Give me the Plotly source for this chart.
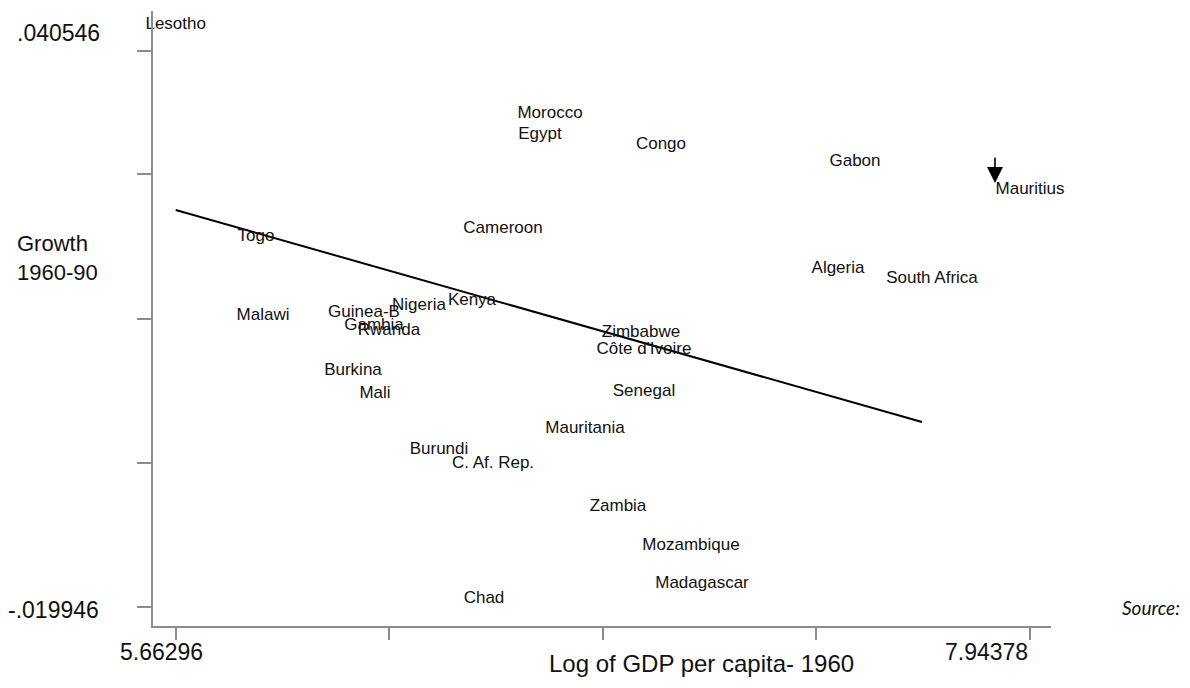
import plotly.graph_objects as go

# Country observations: log GDP per capita in 1960 and average growth 1960-90
countries = ["Lesotho", "Morocco", "Egypt", "Congo", "Gabon", "Mauritius", "Cameroon",
             "Togo", "Algeria", "South Africa", "Malawi", "Guinea-B", "Nigeria", "Kenya",
             "Gambia", "Rwanda", "Zimbabwe", "Côte d'Ivoire", "Burkina", "Mali", "Senegal",
             "Mauritania", "Burundi", "C. Af. Rep.", "Zambia", "Mozambique", "Madagascar", "Chad"]
log_gdp_1960 = [5.66296, 6.6623, 6.6356, 6.9586, 7.4765, 7.94378, 6.5368,
                5.8774, 7.4312, 7.6821, 5.8960, 6.1657, 6.3125, 6.4540,
                6.1924, 6.2324, 6.9052, 6.9132, 6.1363, 6.1951, 6.9132,
                6.7557, 6.3659, 6.5101, 6.8438, 7.0387, 7.0681, 6.4861]
growth_1960_90 = [0.040546, 0.03117, 0.02895, 0.02790, 0.02611, 0.02316, 0.01905,
                  0.01820, 0.01483, 0.01378, 0.00988, 0.01019, 0.01093, 0.01146,
                  0.00882, 0.00830, 0.00809, 0.00629, 0.00408, 0.00166, 0.00187,
                  -0.00203, -0.00425, -0.00572, -0.01025, -0.01436, -0.01837, -0.019946]

# Fitted regression line (end points)
fit_x = [5.66296, 7.6554]
fit_y = [0.02189, -0.00045]

# Axis ticks
x_ticks = [5.66296, 6.23317, 6.80337, 7.37358, 7.94378]
y_ticks = [-0.019946, -0.004771, 0.010405, 0.025686, 0.038648]
x_min_label, x_max_label = "5.66296", "7.94378"
y_min_label, y_max_label = "-.019946", ".040546"
x_title = "Log of GDP per capita- 1960"
y_title = "Growth<br>1960-90"

# Highlighted observation
arrow_x, arrow_y = 7.8503, 0.02474

FONT = "Liberation Sans, Arial, sans-serif"
AXIS_GREY = "#8c8c8c"
INK = "#111111"

fig = go.Figure()

fig.add_trace(go.Scatter(
    x=fit_x, y=fit_y, mode="lines",
    line=dict(color="black", width=2),
    hoverinfo="skip", showlegend=False,
))

fig.add_trace(go.Scatter(
    x=log_gdp_1960, y=growth_1960_90, mode="text",
    text=countries, textposition="top center",
    textfont=dict(family=FONT, size=17, color=INK),
    cliponaxis=False, showlegend=False,
))

x_range = [5.60236, 7.99984]
y_range = [-0.021948, 0.042864]

fig.update_layout(
    width=1190, height=688,
    margin=dict(l=153, r=139, t=11, b=62),
    paper_bgcolor="white", plot_bgcolor="white",
    xaxis=dict(range=x_range, showgrid=False, zeroline=False,
               showline=True, linecolor=AXIS_GREY, linewidth=1.5,
               ticks="outside", ticklen=12, tickwidth=1.5, tickcolor=AXIS_GREY,
               tickvals=x_ticks, showticklabels=False),
    yaxis=dict(range=y_range, showgrid=False, zeroline=False,
               showline=True, linecolor=AXIS_GREY, linewidth=1.5,
               ticks="outside", ticklen=14, tickwidth=1.5, tickcolor=AXIS_GREY,
               tickvals=y_ticks, showticklabels=False),
)

lab_font = dict(family=FONT, size=23, color=INK)

# End-point tick labels
fig.add_annotation(x=x_ticks[0], y=0, xref="x", yref="paper", yshift=-26,
                   xshift=-14, text=x_min_label, showarrow=False, font=lab_font,
                   xanchor="center", yanchor="middle")
fig.add_annotation(x=x_ticks[-1], y=0, xref="x", yref="paper", yshift=-26,
                   text=x_max_label, showarrow=False, font=lab_font,
                   xanchor="right", yanchor="middle")
fig.add_annotation(x=0, y=y_ticks[0], xref="paper", yref="y", xshift=-52,
                   yshift=-3, text=y_min_label, showarrow=False, font=lab_font,
                   xanchor="right", yanchor="middle")
fig.add_annotation(x=0, y=growth_1960_90[0], xref="paper", yref="y", xshift=-51,
                   text=y_max_label, showarrow=False, font=lab_font,
                   xanchor="right", yanchor="middle")

# Axis titles
fig.add_annotation(x=0, y=0.598, xref="paper", yref="paper", xshift=-138,
                   text=y_title, showarrow=False, align="left",
                   font=dict(family=FONT, size=22, color=INK),
                   xanchor="left", yanchor="middle")
fig.add_annotation(x=0.611, y=0, xref="paper", yref="paper", yshift=-37,
                   text=x_title, showarrow=False,
                   font=dict(family=FONT, size=24, color=INK),
                   xanchor="center", yanchor="middle")

# Source note
fig.add_annotation(x=1, y=y_ticks[0], xref="paper", yref="y", xshift=131,
                   text="<i>Source:</i>", showarrow=False,
                   font=dict(family="Lato, sans-serif", size=19, color=INK),
                   xanchor="right", yanchor="middle")

# Arrow pointing at Mauritius
fig.add_annotation(x=arrow_x, y=arrow_y, xref="x", yref="y", text="",
                   showarrow=True, ax=0, ay=-27, arrowhead=2, arrowsize=2,
                   arrowwidth=1.6, arrowcolor="black")

fig.write_html("out.html")
